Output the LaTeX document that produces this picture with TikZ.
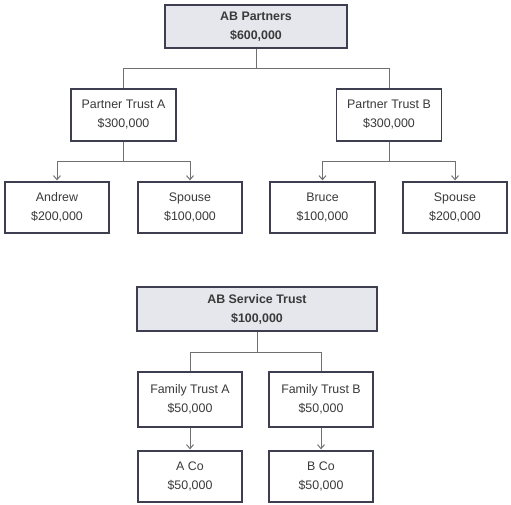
\documentclass[tikz,border=0pt]{standalone}
\usepackage{fontspec}
\setmainfont{Liberation Sans}
\usetikzlibrary{arrows.meta}
\definecolor{boxline}{HTML}{3D3F50}
\definecolor{boxfill}{HTML}{E6E7EC}
\definecolor{conn}{HTML}{707070}
\definecolor{txt}{HTML}{3A3A3A}
\begin{document}
\begin{tikzpicture}[x=1pt,y=-1pt,
  box/.style={draw=boxline,line width=1.3pt,fill=white,align=center,text=txt,
    font=\fontsize{12.4}{19}\selectfont,inner sep=0pt},
  headbox/.style={box,fill=boxfill,font=\fontsize{12.4}{19}\selectfont\bfseries},
  link/.style={draw=conn,line width=1pt},
  arr/.style={link,-{Straight Barb[length=4pt,width=7pt]},shorten >=1pt}]
\useasboundingbox (0,0) rectangle (511,504);
\node[headbox,minimum width=182pt,minimum height=43pt] (top) at (256,26.5) {AB Partners\\\$600,000};
\node[box,minimum width=105pt,minimum height=52pt] (pta) at (123.5,115) {Partner Trust A\\\$300,000};
\node[box,minimum width=105pt,minimum height=52pt] (ptb) at (389,115) {Partner Trust B\\\$300,000};
\node[box,minimum width=104pt,minimum height=51pt] (andrew) at (57,207.5) {Andrew\\\$200,000};
\node[box,minimum width=104pt,minimum height=51pt] (spa) at (190,207.5) {Spouse\\\$100,000};
\node[box,minimum width=105pt,minimum height=51pt] (bruce) at (322.5,207.5) {Bruce\\\$100,000};
\node[box,minimum width=104pt,minimum height=51pt] (spb) at (455,207.5) {Spouse\\\$200,000};
\node[headbox,minimum width=240pt,minimum height=44pt] (st) at (257,309) {AB Service Trust\\\$100,000};
\node[box,minimum width=104pt,minimum height=55pt] (fta) at (190,399.5) {Family Trust A\\\$50,000};
\node[box,minimum width=104pt,minimum height=55pt] (ftb) at (321,399.5) {Family Trust B\\\$50,000};
\node[box,minimum width=104pt,minimum height=51pt] (aco) at (190,476.5) {A Co\\\$50,000};
\node[box,minimum width=104pt,minimum height=51pt] (bco) at (321,476.5) {B Co\\\$50,000};
% connectors
\draw[link] (top.south) -- ++(0,20) coordinate (j1);
\draw[link] (j1) -| (pta.north);
\draw[link] (j1) -| (ptb.north);
\draw[link] (pta.south) -- ++(0,20) coordinate (j2);
\draw[arr] (j2) -| (andrew.north);
\draw[arr] (j2) -| (spa.north);
\draw[link] (ptb.south) -- ++(0,20) coordinate (j3);
\draw[arr] (j3) -| (bruce.north);
\draw[arr] (j3) -| (spb.north);
\draw[link] (st.south) -- ++(0,21) coordinate (j4);
\draw[link] (j4) -| (fta.north);
\draw[link] (j4) -| (ftb.north);
\draw[arr] (fta.south) -- (aco.north);
\draw[arr] (ftb.south) -- (bco.north);
\end{tikzpicture}
\end{document}
